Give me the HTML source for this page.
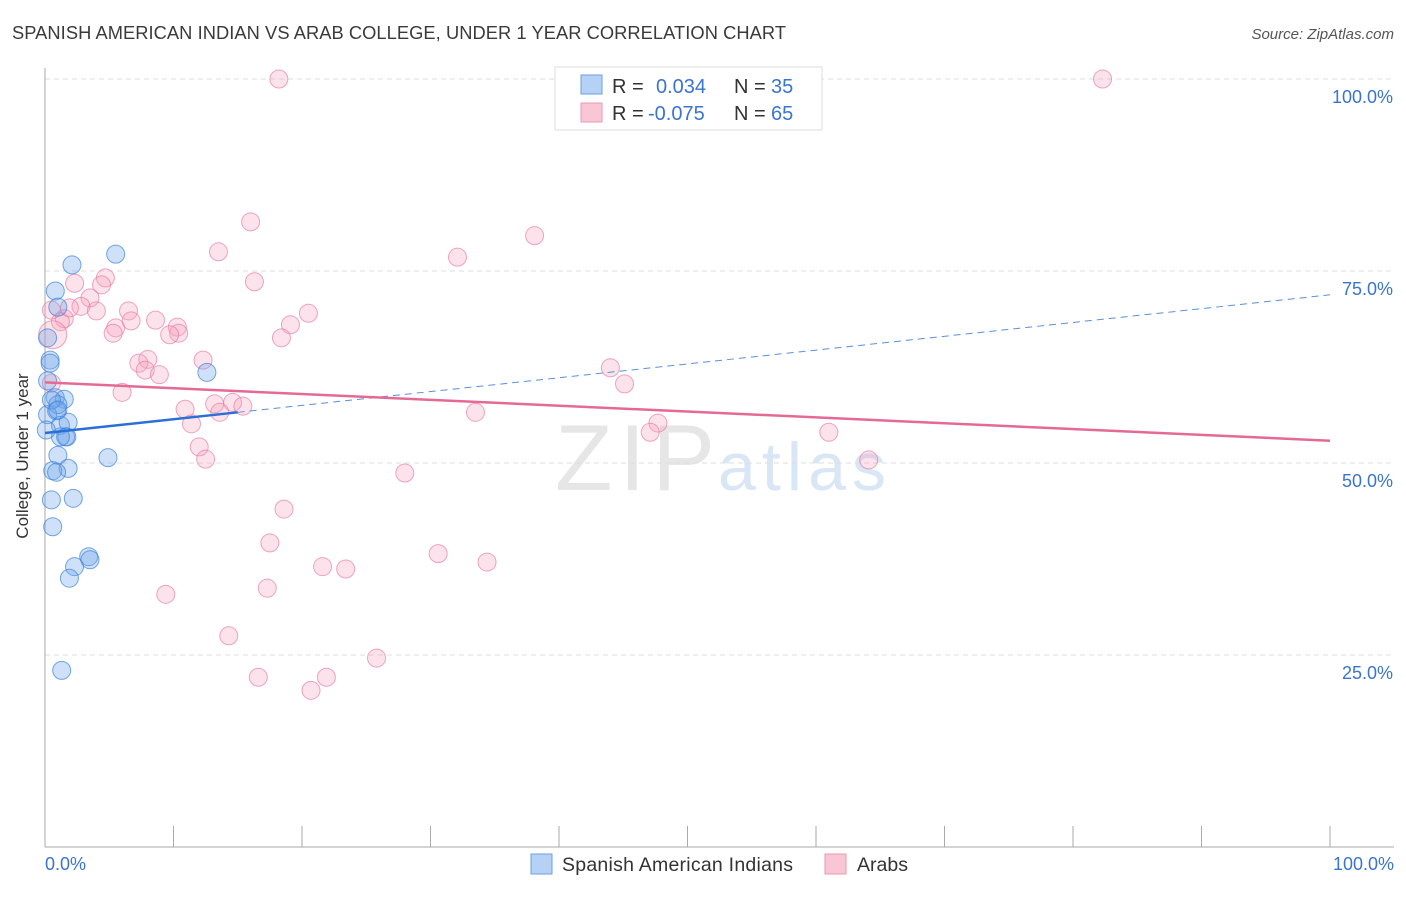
<!DOCTYPE html>
<html><head><meta charset="utf-8"><style>
body{margin:0;background:#fff;font-family:"Liberation Sans",sans-serif}
svg text{font-family:"Liberation Sans",sans-serif}
</style></head><body>
<svg id="c" width="1406" height="892">
<text x="12" y="39" font-size="18.3" fill="#3a3a3a" textLength="774">SPANISH AMERICAN INDIAN VS ARAB COLLEGE, UNDER 1 YEAR CORRELATION CHART</text>
<text x="1394" y="39" font-size="15" fill="#555" text-anchor="end" font-style="italic">Source: ZipAtlas.com</text>
<text x="555" y="490" font-size="94" fill="#e6e6e6" textLength="160" font-family="Liberation Serif">ZIP</text>
<text x="718" y="490" font-size="68" fill="#d9e6f6" textLength="168">atlas</text>
<g id="grid"></g>
<g id="pts"></g>
<g id="trend"></g>
<text x="28" y="456" font-size="17" fill="#333" text-anchor="middle" transform="rotate(-90 28 456)">College, Under 1 year</text>
<g>
<rect x="555" y="67" width="267" height="63" fill="#fff" stroke="#ddd"/>
<rect x="581" y="75" width="21" height="19" fill="#b5d1f5" stroke="#6a9fe0"/>
<rect x="581" y="103" width="21" height="19" fill="#f9c6d6" stroke="#ec98b3"/>
<text x="612" y="93" font-size="20" fill="#333">R = </text><text x="656" y="93" font-size="20" fill="#3a74d0">0.034</text>
<text x="734" y="93" font-size="20" fill="#333">N = </text><text x="771" y="93" font-size="20" fill="#3a74d0">35</text>
<text x="612" y="120" font-size="20" fill="#333">R = </text><text x="648" y="120" font-size="20" fill="#3a74d0">-0.075</text>
<text x="734" y="120" font-size="20" fill="#333">N = </text><text x="771" y="120" font-size="20" fill="#3a74d0">65</text>
</g>
<g>
<rect x="531" y="854" width="21" height="20" fill="#b5d1f5" stroke="#6a9fe0"/>
<text x="562" y="871" font-size="19.5" fill="#333" textLength="231">Spanish American Indians</text>
<rect x="825" y="854" width="21" height="20" fill="#f9c6d6" stroke="#ec98b3"/>
<text x="857" y="871" font-size="19.5" fill="#333">Arabs</text>
</g>
</svg>
<script>
const blueX=[5.5,2.1,0.8,1.0,0.2,0.4,0.2,0.8,1.5,0.9,1.0,1.2,1.8,1.6,1.7,1.0,1.2,1.8,0.6,0.9,4.9,12.6,0.5,2.2,0.6,3.4,3.5,2.3,1.9,1.3,0.2,0.1,0.4,0.5,1.0];
const blueY=[77.2,75.8,72.4,70.3,66.3,63.4,60.7,58.5,58.3,56.8,57.6,54.9,55.3,53.4,53.4,51.0,53.4,49.3,49.0,48.8,50.7,61.8,45.2,45.4,41.7,37.8,37.4,36.5,35.0,23.0,56.3,54.3,63.0,58.2,56.9];
const pinkX=[18.2,82.3,16.0,38.1,13.5,32.1,16.3,4.7,2.3,4.4,3.5,2.8,4.0,1.5,1.2,6.5,5.5,6.7,8.6,10.3,10.4,9.7,5.3,0.6,20.5,19.1,18.4,8.0,7.3,7.8,8.9,12.3,44.0,45.1,6.0,0.5,10.9,13.2,14.6,15.4,13.6,11.4,33.5,47.7,47.1,61.0,12.0,12.5,64.1,28.0,18.6,17.5,30.6,34.4,21.6,23.4,17.3,9.4,14.3,25.8,16.6,21.9,20.7,0.5,1.9];
const pinkY=[100,100,81.4,79.6,77.5,76.8,73.6,74.1,73.4,73.2,71.5,70.4,69.8,68.8,68.4,69.8,67.6,68.5,68.6,67.7,66.9,66.7,66.9,66.7,69.5,68.0,66.3,63.5,63.0,62.1,61.5,63.4,62.4,60.3,59.2,60.4,57.0,57.7,57.9,57.4,56.6,55.1,56.6,55.2,54.0,54.0,52.1,50.5,50.4,48.7,44.0,39.6,38.2,37.1,36.5,36.2,33.7,32.9,27.5,24.6,22.1,22.1,20.4,69.9,70.2];
const yTicks=[25,50,75,100];
const yTickLabels=["25.0%","50.0%","75.0%","100.0%"];
const xTicks=[0,10,20,30,40,50,60,70,80,90,100];
const blueTrend=[53.9,71.9];
const pinkTrend=[60.5,52.9];
const blueSolidEnd=15;
const NS="http://www.w3.org/2000/svg";
const sx=v=>45+v*12.85, sy=v=>847-v*7.68;
function mk(t,a,p){const e=document.createElementNS(NS,t);for(const k in a)e.setAttribute(k,a[k]);p.appendChild(e);return e;}
const g=document.getElementById('grid');
yTicks.forEach((t,i)=>{
 const l=mk('line',{x1:45,x2:1394,y1:sy(t),y2:sy(t),stroke:'#ddd','stroke-dasharray':'5,4'},g);
 
 
 const tx=mk('text',{x:1393,y:sy(t)+24,'font-size':18,fill:'#3a74d0','text-anchor':'end'},g);
 tx.textContent=yTickLabels[i];
 
 
});
const ax=mk('line',{x1:45,x2:45,y1:68,y2:847,stroke:'#aaa'},g);


const bx=mk('line',{x1:45,x2:1394,y1:847,y2:847,stroke:'#aaa'},g);


xTicks.forEach(t=>{
 const l=mk('line',{x1:sx(t),x2:sx(t),y1:826,y2:847,stroke:'#aaa'},g);
 
 
});
[[0,"0.0%","start",45],[100,"100.0%","end",1394]].forEach(a=>{
 const t=mk('text',{x:a[3],y:870,'font-size':18,fill:'#3a74d0','text-anchor':a[2]},g);t.textContent=a[1];
 
 
});
const p=document.getElementById('pts');
pinkX.forEach((x,i)=>{
 const c=mk('circle',{cx:sx(x),cy:sy(pinkY[i]),r:i==23?14:9,fill:'rgba(244,160,188,0.3)',stroke:'rgba(230,120,155,0.65)','stroke-width':1},p);
 
 
});
blueX.forEach((x,i)=>{
 const c=mk('circle',{cx:sx(x),cy:sy(blueY[i]),r:9,fill:'rgba(110,165,235,0.33)',stroke:'rgba(60,130,220,0.7)','stroke-width':1},p);
 
 
});
const tr=document.getElementById('trend');
const bAt=v=>blueTrend[0]+(blueTrend[1]-blueTrend[0])*v/100;
const l1=mk('line',{x1:sx(blueSolidEnd),y1:sy(bAt(blueSolidEnd)),x2:sx(100),y2:sy(bAt(100)),stroke:'#5b8fd8','stroke-width':1,'stroke-dasharray':'7,5'},tr);


const l2=mk('line',{x1:sx(0),y1:sy(bAt(0)),x2:sx(blueSolidEnd),y2:sy(bAt(blueSolidEnd)),stroke:'#2a6fd6','stroke-width':2.5},tr);


const l3=mk('line',{x1:sx(0),y1:sy(pinkTrend[0]),x2:sx(100),y2:sy(pinkTrend[1]),stroke:'#e46a95','stroke-width':2.5},tr);


</script>
</body></html>
